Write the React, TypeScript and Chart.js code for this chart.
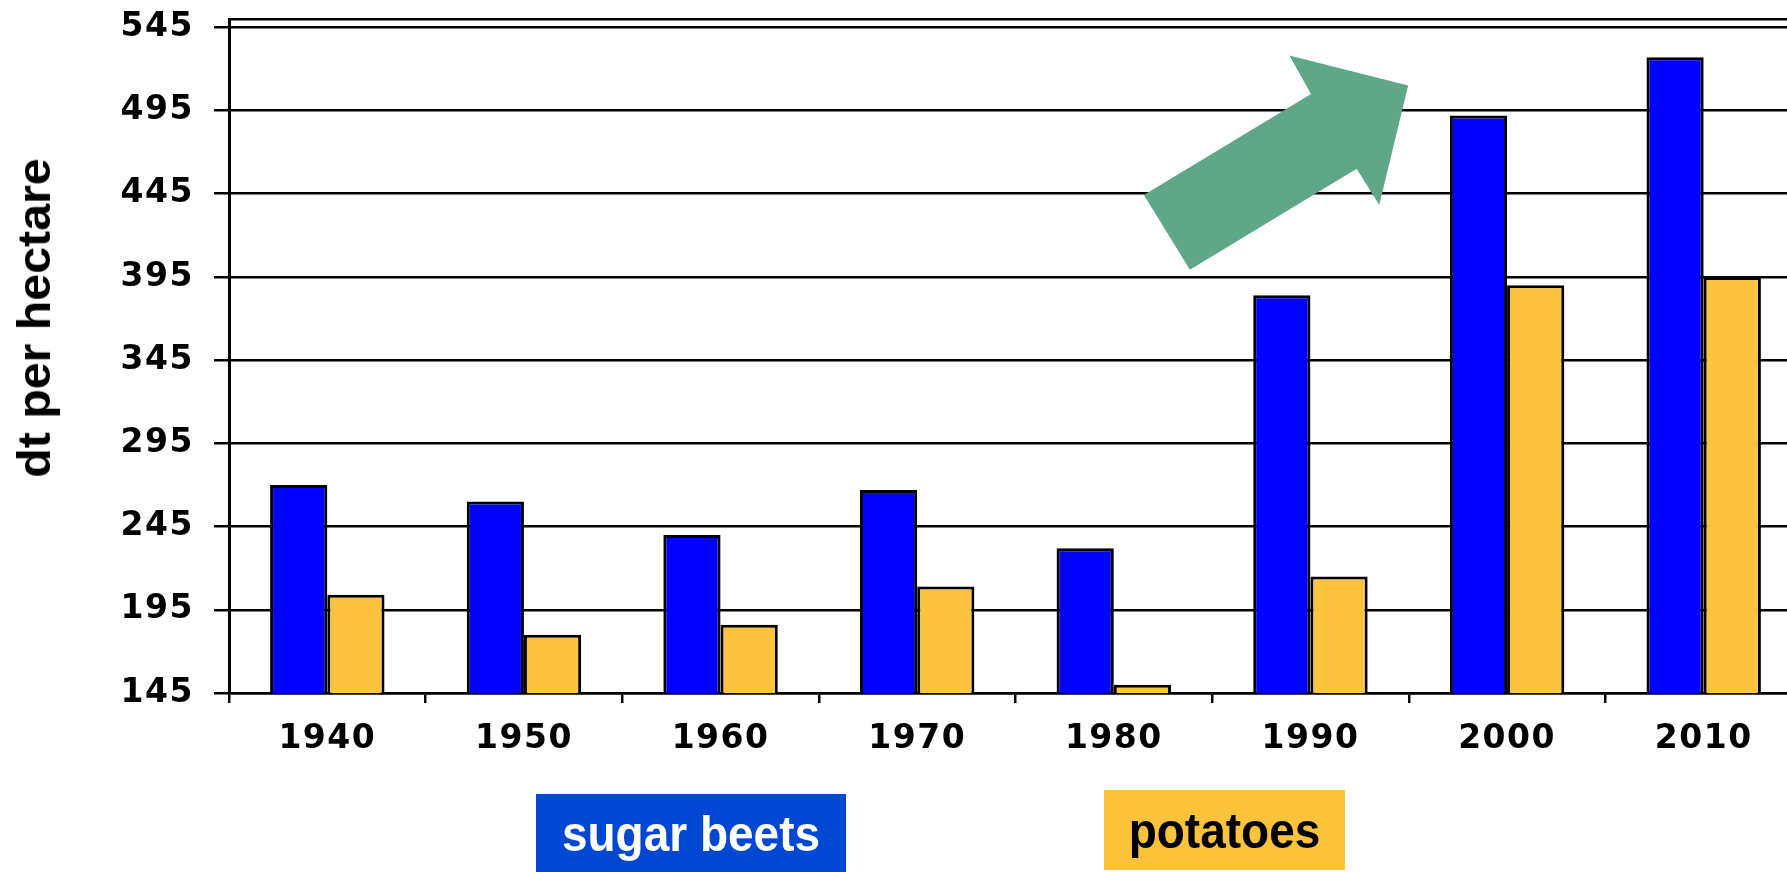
import React, { useEffect, useRef } from "react";
import { Chart, registerables } from "chart.js";

Chart.register(...registerables);

// ---- data ----
const years = ["1940", "1950", "1960", "1970", "1980", "1990", "2000", "2010"];
const sugarBeets = [270, 260, 240, 267, 232, 384, 492, 527];
const potatoes = [204, 180, 186, 209, 150, 215, 390, 395];
const yTickValues = [145, 195, 245, 295, 345, 395, 445, 495, 545, 550];
const yMin = 145;
const yMax = 550;
const yTitle = "dt per hectare";
const legendLabels = ["sugar beets", "potatoes"];

// arrow annotation, in (category index, value) units
const arrowIdx = [4.153, 4.387, 5.235, 5.35, 5.497, 4.893, 5.003];
const arrowVal = [444.3, 399.3, 460, 438.3, 510, 528, 505];

const BLUE = "#0000FF";
const GOLD = "#FBC33F";

const spacingPlugin = {
  id: "tickSpacing",
  beforeDraw(chart: any) {
    chart.ctx.letterSpacing = "1.5px";
  },
  afterDraw(chart: any) {
    chart.ctx.letterSpacing = "0px";
  },
};

const arrowPlugin = {
  id: "arrow",
  afterDatasetsDraw(chart: any) {
    const ctx = chart.ctx;
    const xs = chart.scales.x;
    const ys = chart.scales.y;
    ctx.save();
    ctx.beginPath();
    arrowIdx.forEach((ix, i) => {
      const px = xs.getPixelForValue(ix);
      const py = ys.getPixelForValue(arrowVal[i]);
      if (i === 0) ctx.moveTo(px, py);
      else ctx.lineTo(px, py);
    });
    ctx.closePath();
    ctx.fillStyle = "#5FA787";
    ctx.fill();
    ctx.restore();
  },
};

export default function App() {
  const canvasRef = useRef<HTMLCanvasElement | null>(null);

  useEffect(() => {
    const canvas = canvasRef.current;
    if (!canvas) return;
    const tickFont = { family: "'DejaVu Sans'", weight: "bold" as const, size: 33 };
    const chart = new Chart(canvas, {
      type: "bar",
      data: {
        labels: years,
        datasets: [
          {
            label: legendLabels[0],
            data: sugarBeets,
            backgroundColor: BLUE,
            borderColor: "#000",
            borderWidth: 3,
            categoryPercentage: 0.582,
            barPercentage: 1.0,
          },
          {
            label: legendLabels[1],
            data: potatoes,
            backgroundColor: GOLD,
            borderColor: "#000",
            borderWidth: 3,
            categoryPercentage: 0.582,
            barPercentage: 1.0,
          },
        ],
      },
      options: {
        responsive: false,
        animation: false,
        devicePixelRatio: 1,
        layout: { padding: { top: 19, right: 8, left: 0, bottom: 0 } },
        plugins: {
          legend: { display: false },
          tooltip: { enabled: false },
          title: { display: false },
        },
        scales: {
          x: {
            type: "category",
            offset: true,
            grid: {
              offset: true,
              drawOnChartArea: false,
              drawTicks: true,
              tickLength: 10,
              tickColor: "#000",
              tickWidth: 2.5,
              color: "#000",
              lineWidth: 2.5,
            },
            border: { display: true, color: "#000", width: 2.5 },
            ticks: {
              color: "#000",
              font: tickFont,
              padding: 17,
              maxRotation: 0,
              autoSkip: false,
            },
            afterFit(scale: any) {
              scale.height = 179;
            },
          },
          y: {
            type: "linear",
            min: yMin,
            max: yMax,
            afterBuildTicks(scale: any) {
              scale.ticks = yTickValues.map((v) => ({ value: v }));
            },
            grid: {
              color: "#000",
              lineWidth: 2.5,
              drawTicks: true,
              tickLength: 15,
              tickWidth: 2.5,
              tickColor: (c: any) =>
                c.tick && c.tick.value === yMax ? "rgba(0,0,0,0)" : "#000",
            },
            border: { display: true, color: "#000", width: 3 },
            ticks: {
              color: "#000",
              font: tickFont,
              padding: 20,
              autoSkip: false,
              callback: (v: any) => (Number(v) === yMax ? "" : String(v)),
            },
            afterFit(scale: any) {
              scale.width = 229;
              scale.paddingTop = 0;
              scale.paddingBottom = 0;
            },
          },
        },
      },
      plugins: [spacingPlugin, arrowPlugin],
    });
    return () => chart.destroy();
  }, []);

  return (
    <div
      style={{
        position: "absolute",
        left: 0,
        top: 0,
        width: 1787,
        height: 872,
        overflow: "hidden",
        background: "#fff",
      }}
    >
      <canvas
        ref={canvasRef}
        width={1810}
        height={872}
        style={{ position: "absolute", left: 0, top: 0, width: 1810, height: 872 }}
      />
      <div
        style={{
          position: "absolute",
          left: 34,
          top: 318,
          transform: "translate(-50%, -50%) rotate(-90deg) scaleX(1.05)",
          font: "bold 46px 'Liberation Sans', Arial, sans-serif",
          lineHeight: 1,
          whiteSpace: "nowrap",
          color: "#000",
        }}
      >
        {yTitle}
      </div>
      <div
        style={{
          position: "absolute",
          left: 536,
          top: 794,
          width: 310,
          height: 78,
          background: "#0047D2",
          color: "#fff",
          font: "bold 46px 'Liberation Sans', Arial, sans-serif",
          display: "flex",
          alignItems: "center",
          justifyContent: "center",
          whiteSpace: "nowrap",
        }}
      >
        <span style={{ display: "inline-block", transform: "scaleY(1.1)" }}>
          {legendLabels[0]}
        </span>
      </div>
      <div
        style={{
          position: "absolute",
          left: 1104,
          top: 790,
          width: 241,
          height: 80,
          background: "#FBC23C",
          color: "#000",
          font: "bold 46px 'Liberation Sans', Arial, sans-serif",
          display: "flex",
          alignItems: "center",
          justifyContent: "center",
          whiteSpace: "nowrap",
        }}
      >
        <span style={{ display: "inline-block", transform: "scaleY(1.1)" }}>
          {legendLabels[1]}
        </span>
      </div>
    </div>
  );
}
